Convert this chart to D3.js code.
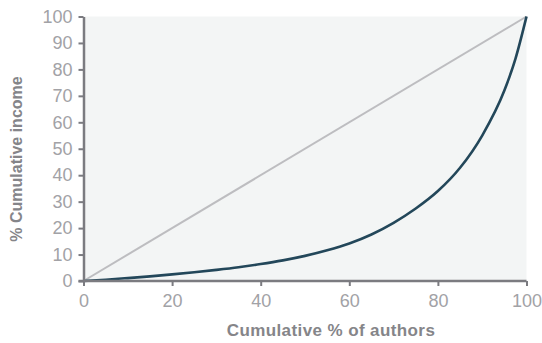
<!DOCTYPE html>
<html>
<head>
<meta charset="utf-8">
<script src="https://cdn.jsdelivr.net/npm/d3@7"></script>
<style>
  html, body { margin: 0; padding: 0; background: #ffffff; }
  svg { display: block; }
</style>
</head>
<body>
<script>
// Cumulative % of authors (x) and % cumulative income (y)
const authorsPct = [0, 5, 10, 15, 20, 25, 30, 35, 40, 45, 50, 55, 60, 65, 70, 75, 80, 85, 90, 95, 97.5, 100];
const incomePct  = [0, 0.5, 1.1, 1.75, 2.5, 3.3, 4.2, 5.2, 6.4, 7.8, 9.5, 11.6, 14.2, 17.6, 22.0, 27.4, 34.0, 42.8, 55.0, 72.0, 84.0, 100];
const equality   = [0, 100];
const xTicks = [0, 20, 40, 60, 80, 100];
const yTicks = [0, 10, 20, 30, 40, 50, 60, 70, 80, 90, 100];
const xTitle = "Cumulative % of authors";
const yTitle = "% Cumulative income";

const W = 542, H = 343;
const margin = { left: 83.5, right: 15.5, top: 16.5, bottom: 62 };

const svg = d3.select("body").append("svg").attr("width", W).attr("height", H);

const x = d3.scaleLinear().domain([0, 100]).range([margin.left, W - margin.right]);
const y = d3.scaleLinear().domain([0, 100]).range([H - margin.bottom, margin.top]);

// panel background
svg.append("rect")
  .attr("x", x(0)).attr("y", y(100))
  .attr("width", x(100) - x(0)).attr("height", y(0) - y(100))
  .attr("fill", "#f3f5f5");

// equality line
svg.append("path")
  .datum(equality)
  .attr("d", d3.line().x(d => x(d)).y(d => y(d)))
  .attr("fill", "none").attr("stroke", "#bdbdc0").attr("stroke-width", 2);

// Lorenz curve
const pts = authorsPct.map((a, i) => [a, incomePct[i]]);
svg.append("path")
  .datum(pts)
  .attr("d", d3.line().x(d => x(d[0])).y(d => y(d[1])).curve(d3.curveMonotoneX))
  .attr("fill", "none").attr("stroke", "#23475a").attr("stroke-width", 2.6);

const tickFont = "'Liberation Sans', Arial, sans-serif";

// x axis
const gx = svg.append("g").attr("transform", `translate(0,${y(0)})`)
  .call(d3.axisBottom(x).tickValues(xTicks).tickSize(5).tickPadding(8).tickSizeOuter(0));
// y axis
const gy = svg.append("g").attr("transform", `translate(${x(0)},0)`)
  .call(d3.axisLeft(y).tickValues(yTicks).tickSize(5).tickPadding(6).tickSizeOuter(0));

[gx, gy].forEach(g => {
  g.select(".domain").attr("stroke", "#7b7b80").attr("stroke-width", 2.5);
  g.selectAll(".tick line").attr("stroke", "#7b7b80").attr("stroke-width", 2);
  g.selectAll(".tick text")
    .attr("fill", "#a2a2a6")
    .style("font-family", tickFont)
    .style("font-size", "18px");
});
// extend x domain over the y axis corner
gx.select(".domain").attr("d", `M${x(0) - 5},0H${x(100)}`);

// axis titles
svg.append("text")
  .attr("x", 331).attr("y", 336)
  .attr("text-anchor", "middle")
  .attr("fill", "#858589")
  .style("font-family", tickFont)
  .style("font-size", "17px")
  .style("font-weight", "bold")
  .style("letter-spacing", "0.4px")
  .text(xTitle);

svg.append("text")
  .attr("transform", `translate(22,159) rotate(-90)`)
  .attr("text-anchor", "middle")
  .attr("fill", "#858589")
  .style("font-family", tickFont)
  .style("font-size", "16px")
  .style("font-weight", "bold")
  .text(yTitle);
</script>
</body>
</html>
